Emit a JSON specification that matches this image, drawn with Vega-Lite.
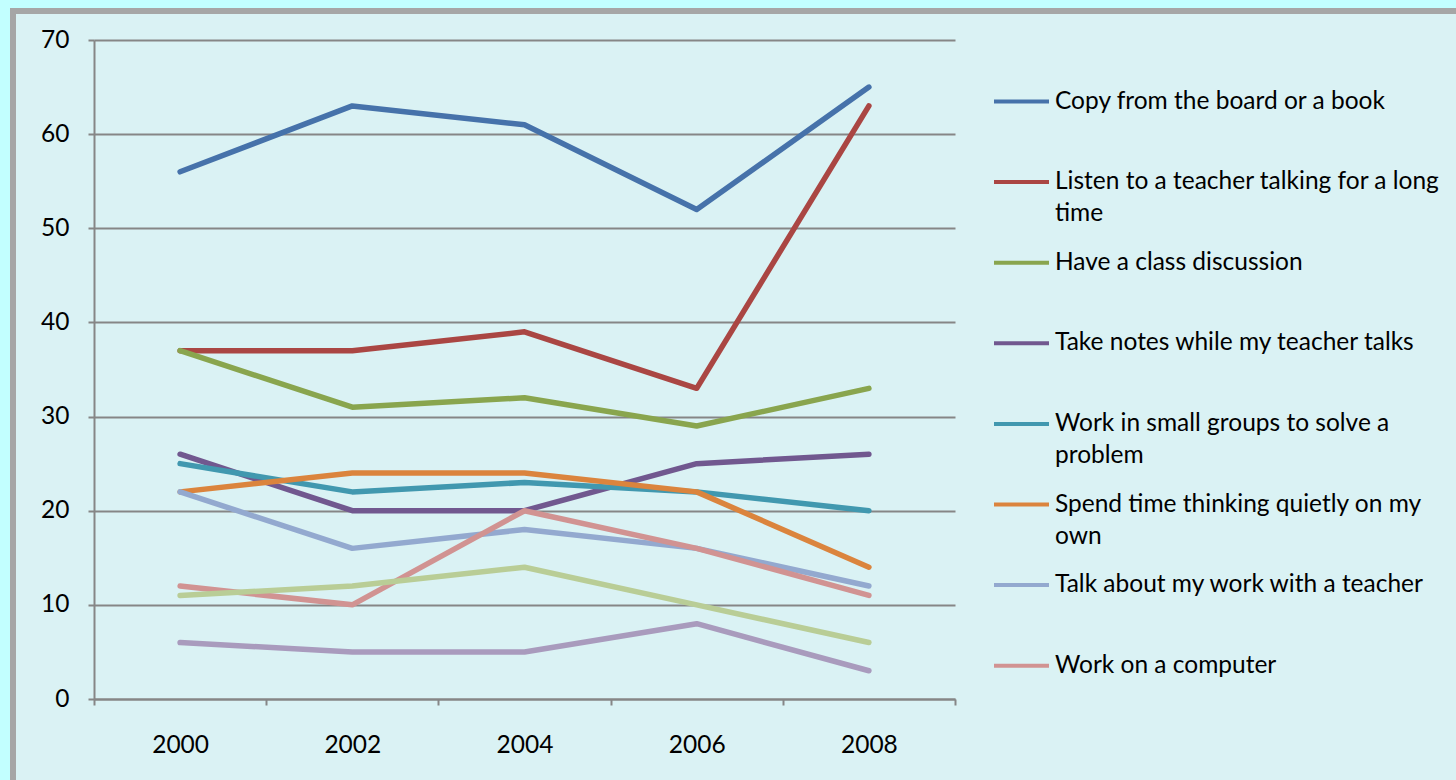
{
  "$schema": "https://vega.github.io/schema/vega-lite/v6.json",
  "autosize": "none",
  "width": 1456,
  "height": 780,
  "padding": {"left": 13, "top": 11, "right": 0, "bottom": 0},
  "background": "#c2ffff",
  "config": {
    "view": {"fill": "#daf2f4", "stroke": "#a6a6a6", "strokeWidth": 6},
    "font": "Lato",
    "style": {"guide-label": {"lineHeight": 32}}
  },
  "data": {
    "values": [
      {"series": "Copy from the board or a book", "year": "2000", "value": 56},
      {"series": "Copy from the board or a book", "year": "2002", "value": 63},
      {"series": "Copy from the board or a book", "year": "2004", "value": 61},
      {"series": "Copy from the board or a book", "year": "2006", "value": 52},
      {"series": "Copy from the board or a book", "year": "2008", "value": 65},
      {"series": "Listen to a teacher talking for a long time", "year": "2000", "value": 37},
      {"series": "Listen to a teacher talking for a long time", "year": "2002", "value": 37},
      {"series": "Listen to a teacher talking for a long time", "year": "2004", "value": 39},
      {"series": "Listen to a teacher talking for a long time", "year": "2006", "value": 33},
      {"series": "Listen to a teacher talking for a long time", "year": "2008", "value": 63},
      {"series": "Have a class discussion", "year": "2000", "value": 37},
      {"series": "Have a class discussion", "year": "2002", "value": 31},
      {"series": "Have a class discussion", "year": "2004", "value": 32},
      {"series": "Have a class discussion", "year": "2006", "value": 29},
      {"series": "Have a class discussion", "year": "2008", "value": 33},
      {"series": "Take notes while my teacher talks", "year": "2000", "value": 26},
      {"series": "Take notes while my teacher talks", "year": "2002", "value": 20},
      {"series": "Take notes while my teacher talks", "year": "2004", "value": 20},
      {"series": "Take notes while my teacher talks", "year": "2006", "value": 25},
      {"series": "Take notes while my teacher talks", "year": "2008", "value": 26},
      {"series": "Work in small groups to solve a problem", "year": "2000", "value": 25},
      {"series": "Work in small groups to solve a problem", "year": "2002", "value": 22},
      {"series": "Work in small groups to solve a problem", "year": "2004", "value": 23},
      {"series": "Work in small groups to solve a problem", "year": "2006", "value": 22},
      {"series": "Work in small groups to solve a problem", "year": "2008", "value": 20},
      {"series": "Spend time thinking quietly on my own", "year": "2000", "value": 22},
      {"series": "Spend time thinking quietly on my own", "year": "2002", "value": 24},
      {"series": "Spend time thinking quietly on my own", "year": "2004", "value": 24},
      {"series": "Spend time thinking quietly on my own", "year": "2006", "value": 22},
      {"series": "Spend time thinking quietly on my own", "year": "2008", "value": 14},
      {"series": "Talk about my work with a teacher", "year": "2000", "value": 22},
      {"series": "Talk about my work with a teacher", "year": "2002", "value": 16},
      {"series": "Talk about my work with a teacher", "year": "2004", "value": 18},
      {"series": "Talk about my work with a teacher", "year": "2006", "value": 16},
      {"series": "Talk about my work with a teacher", "year": "2008", "value": 12},
      {"series": "Work on a computer", "year": "2000", "value": 12},
      {"series": "Work on a computer", "year": "2002", "value": 10},
      {"series": "Work on a computer", "year": "2004", "value": 20},
      {"series": "Work on a computer", "year": "2006", "value": 16},
      {"series": "Work on a computer", "year": "2008", "value": 11},
      {"series": "Other activity A", "year": "2000", "value": 11},
      {"series": "Other activity A", "year": "2002", "value": 12},
      {"series": "Other activity A", "year": "2004", "value": 14},
      {"series": "Other activity A", "year": "2006", "value": 10},
      {"series": "Other activity A", "year": "2008", "value": 6},
      {"series": "Other activity B", "year": "2000", "value": 6},
      {"series": "Other activity B", "year": "2002", "value": 5},
      {"series": "Other activity B", "year": "2004", "value": 5},
      {"series": "Other activity B", "year": "2006", "value": 8},
      {"series": "Other activity B", "year": "2008", "value": 3}
    ]
  },
  "mark": {"type": "line", "strokeWidth": 5.5, "strokeCap": "round", "strokeJoin": "round"},
  "encoding": {
    "x": {
      "field": "year",
      "type": "ordinal",
      "bandPosition": 0.5,
      "scale": {"type": "band", "paddingInner": 0, "paddingOuter": 0, "range": [81, 942]},
      "axis": {
        "title": null,
        "labelAngle": 0,
        "tickBand": "extent",
        "grid": false,
        "offset": -92,
        "domainColor": "#868686",
        "domainWidth": 2,
        "tickColor": "#868686",
        "tickWidth": 2,
        "tickSize": 6,
        "labelFontSize": 24.5,
        "labelColor": "#000000",
        "labelPadding": 28
      }
    },
    "y": {
      "field": "value",
      "type": "quantitative",
      "scale": {"domain": [0, 70], "range": [688, 29], "nice": false},
      "axis": {
        "title": null,
        "values": [0, 10, 20, 30, 40, 50, 60, 70],
        "offset": -81,
        "grid": true,
        "gridColor": "#868686",
        "gridWidth": 2,
        "gridOpacity": 1,
        "domainColor": "#868686",
        "domainWidth": 2,
        "tickColor": "#868686",
        "tickWidth": 2,
        "tickSize": 6,
        "labelFontSize": 24.5,
        "labelColor": "#000000",
        "labelPadding": 19
      }
    },
    "color": {
      "field": "series",
      "type": "nominal",
      "scale": {
        "domain": [
          "Copy from the board or a book",
          "Listen to a teacher talking for a long time",
          "Have a class discussion",
          "Take notes while my teacher talks",
          "Work in small groups to solve a problem",
          "Spend time thinking quietly on my own",
          "Talk about my work with a teacher",
          "Work on a computer",
          "Other activity A",
          "Other activity B"
        ],
        "range": ["#4672aa", "#aa4643", "#89a54e", "#71588f", "#4198af", "#db843d", "#93a9cf", "#d19392", "#b9cd96", "#a99bbd"]
      },
      "legend": {
        "orient": "none",
        "legendX": 979,
        "legendY": 61,
        "title": null,
        "padding": 0,
        "values": [
          "Copy from the board or a book",
          "Listen to a teacher talking for a long time",
          "Have a class discussion",
          "Take notes while my teacher talks",
          "Work in small groups to solve a problem",
          "Spend time thinking quietly on my own",
          "Talk about my work with a teacher",
          "Work on a computer"
        ],
        "symbolType": "stroke",
        "symbolSize": 3025,
        "symbolStrokeWidth": 4,
        "labelFontSize": 24.5,
        "labelColor": "#000000",
        "labelLimit": 440,
        "labelOffset": 4,
        "labelBaseline": "middle",
        "rowPadding": 7.6,
        "labelExpr": "datum.label == 'Listen to a teacher talking for a long time' ? ['Listen to a teacher talking for a long', 'time'] : datum.label == 'Work in small groups to solve a problem' ? ['Work in small groups to solve a', 'problem'] : datum.label == 'Spend time thinking quietly on my own' ? ['Spend time thinking quietly on my', 'own'] : [datum.label, '']"
      }
    }
  }
}
